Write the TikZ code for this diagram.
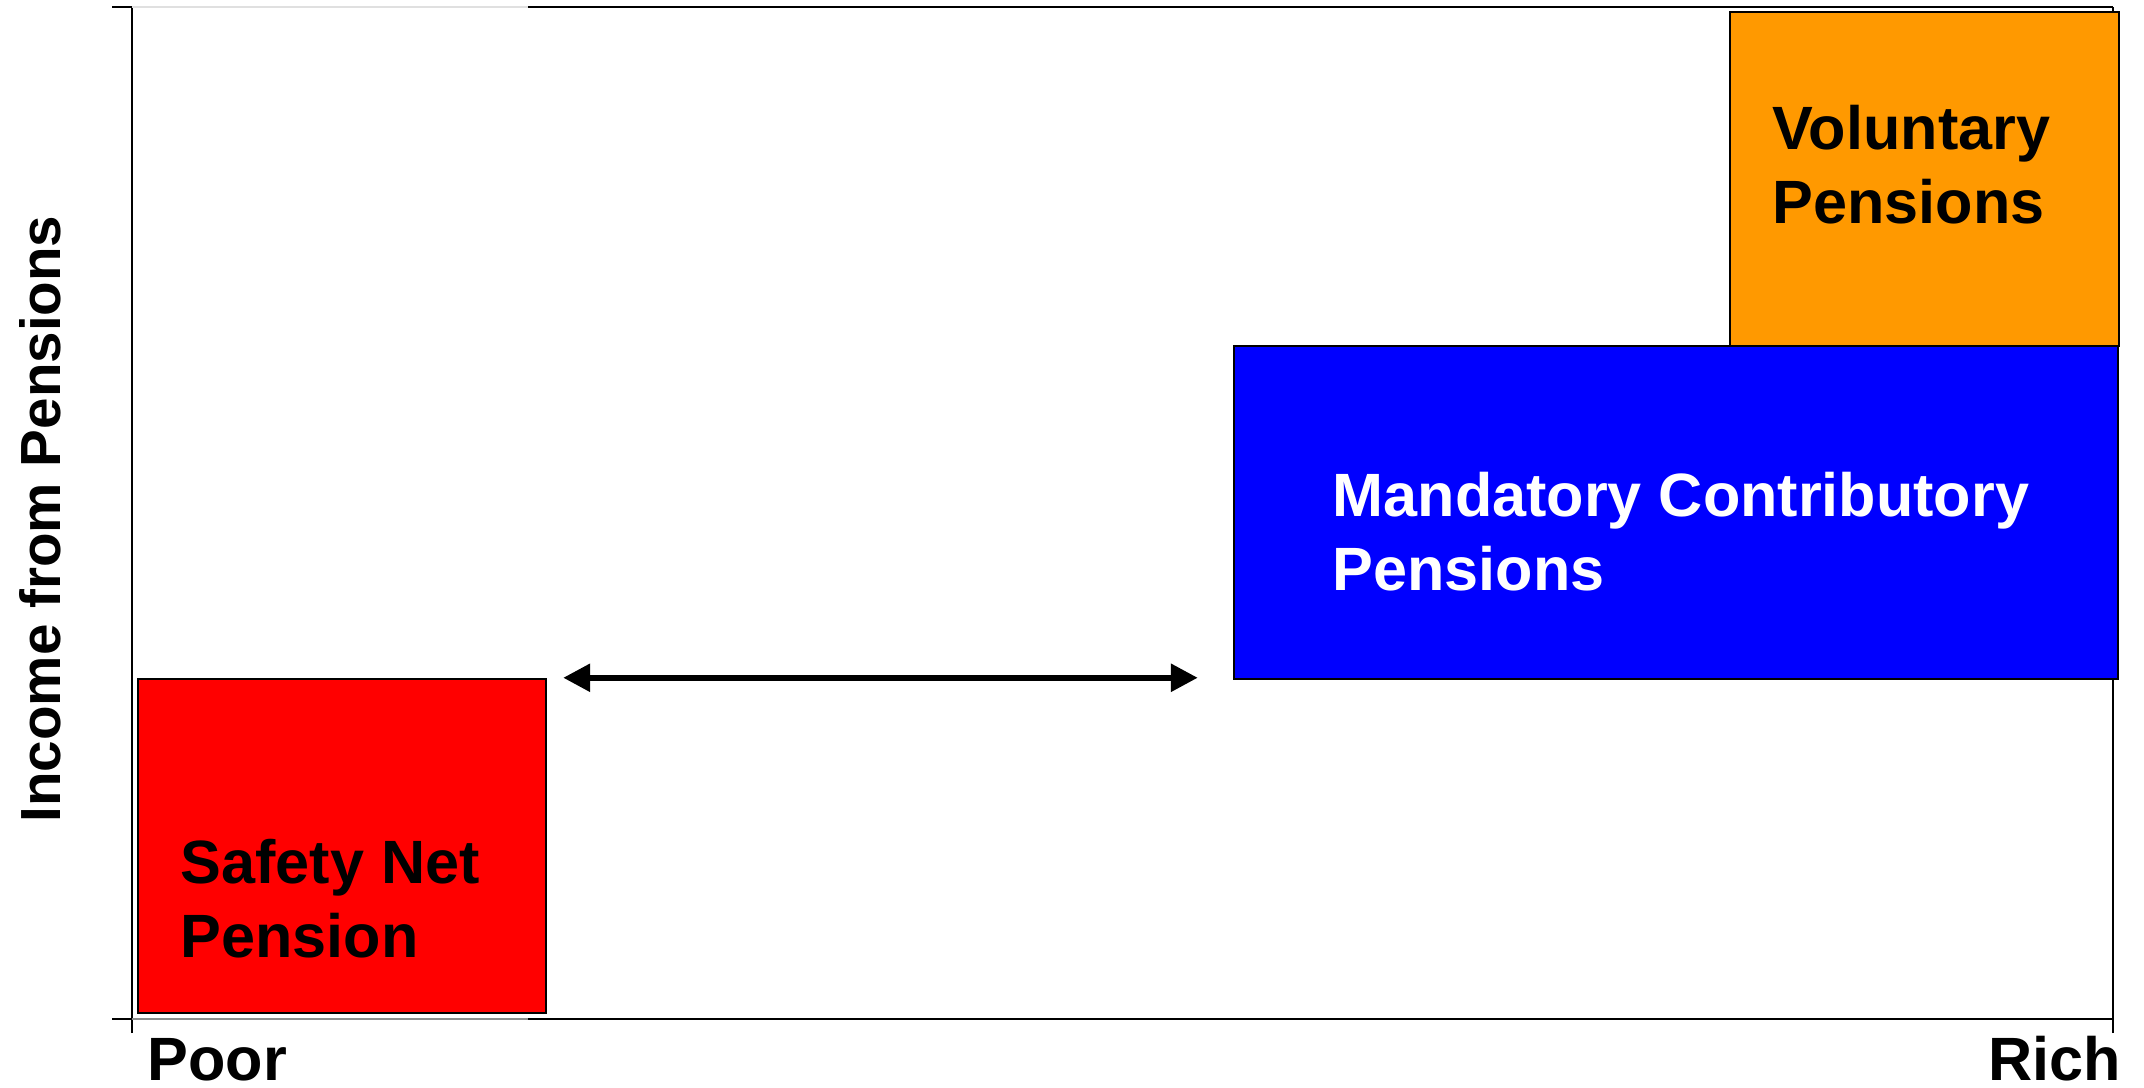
\documentclass[tikz,border=0pt]{standalone}
\usepackage{fontspec}
\setmainfont{Liberation Sans}
\definecolor{pensred}{RGB}{255,0,0}
\definecolor{pensblue}{RGB}{0,0,255}
\definecolor{pensorange}{RGB}{255,153,0}
\usetikzlibrary{arrows.meta,positioning}
\tikzset{
  pillar/.style={draw=black,line width=0.7pt,inner sep=0pt},
  pillartext/.style={anchor=base west,align=left,inner sep=0pt,
        font=\fontsize{17.4}{21}\selectfont\bfseries},
  axisline/.style={line width=0.7pt}
}

\begin{document}
\begin{tikzpicture}
  \useasboundingbox (0,0) rectangle (21.44,10.87);
  %% Axes
  \draw[axisline] (1.32,0.54) -- (1.32,10.80);
  \draw[axisline] (21.13,0.54) -- (21.13,10.80);
  \draw[axisline] (1.12,0.68) -- (1.32,0.68);
  \draw[axisline,black!45,line width=0.5pt] (1.32,0.68) -- (5.28,0.68);
  \draw[axisline] (5.28,0.68) -- (21.13,0.68);
  \draw[axisline] (1.12,10.80) -- (1.32,10.80);
  \draw[black!12,line width=0.5pt] (1.32,10.80) -- (5.28,10.80);
  \draw[axisline] (5.28,10.80) -- (21.13,10.80);
  %% Pillar 1: Safety Net
  \node[pillar,fill=pensred,minimum width=4.08cm,minimum height=3.34cm]
        (safety) at (3.42,2.41) {};
  \node[pillartext] (safetytxt) at (1.80,1.30) {Safety Net\\Pension};
  %% Pillar 2: Mandatory Contributory
  \node[pillar,fill=pensblue,minimum width=8.84cm,minimum height=3.33cm]
        (mandatory) at (16.76,5.745) {};
  \node[pillartext,text=white] (mandatorytxt) at (13.32,4.97)
        {Mandatory Contributory\\Pensions};
  %% Pillar 3: Voluntary
  \node[pillar,fill=pensorange,minimum width=3.89cm,minimum height=3.34cm]
        (voluntary) at (19.245,9.08) {};
  \node[pillartext] (voluntarytxt) at (17.72,8.64) {Voluntary\\Pensions};
  %% Gap between the pillars
  \draw[{Triangle[length=2.7mm,width=2.7mm]}-{Triangle[length=2.7mm,width=2.7mm]},
        line width=1.7pt,shorten <=1.6mm,shorten >=3.5mm]
        (safety.north east) -- (safety.north east -| mandatory.south west);
  %% Axis labels
  \node[pillartext] (poor) at (1.47,0.07) {Poor};
  \node[pillartext,anchor=base east] (rich) at (21.22,0.07) {Rich};
  \node[pillartext,anchor=base,rotate=90,font=\fontsize{16.1}{19}\selectfont\bfseries]
        (income) at (0.60,5.68) {Income from Pensions};
\end{tikzpicture}
\end{document}
